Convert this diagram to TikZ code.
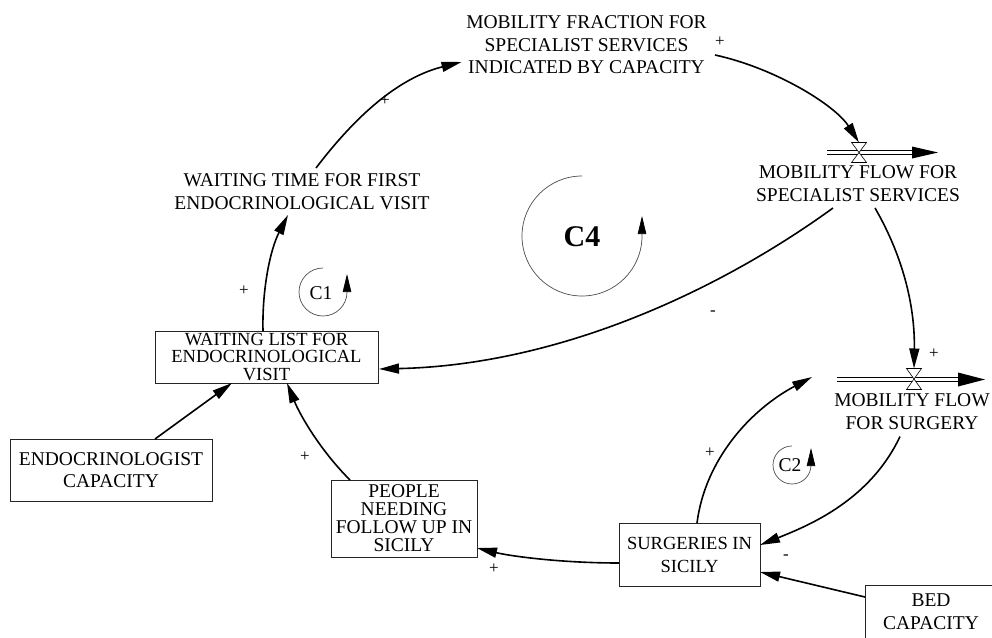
\documentclass[tikz,border=0pt]{standalone}
\usepackage{fontspec}
\setmainfont{Liberation Serif}
\usetikzlibrary{arrows.meta,calc}
\begin{document}
\begin{tikzpicture}[x=1pt,y=-1pt,
  every node/.style={font=\fontsize{19.5}{22.5}\selectfont, align=center, inner sep=0pt, outer sep=0pt},
  box/.style={draw=black!85, line width=0.9pt, rectangle},
  conn/.style={line width=1.6pt, -{Triangle[length=20pt,width=10pt]}},
  loopc/.style={draw=black!70, line width=0.7pt, -{Triangle[length=18pt,width=8.5pt,fill=black,color=black]}},
  sgn/.style={font=\fontsize{17}{17}\selectfont},
  pipe/.style={line width=0.7pt},
  valve/.style={draw=black, line width=0.6pt, fill=white},
  valvebox/.style={minimum width=15pt, minimum height=20pt},
]
\useasboundingbox (0,0) rectangle (992,637);

% text variables
\node (mf) at (586.5,45) {MOBILITY FRACTION FOR\\SPECIALIST SERVICES\\INDICATED BY CAPACITY};
\node (wt) at (302,191.5) {WAITING TIME FOR FIRST\\ENDOCRINOLOGICAL VISIT};
\node (fs) at (858,183.5) {MOBILITY FLOW FOR\\SPECIALIST SERVICES};
\node (fsu) at (912,411.5) {MOBILITY FLOW\\FOR SURGERY};

% boxes
\node[box, minimum width=223pt, minimum height=52pt, font=\fontsize{18.5}{17.5}\selectfont] (wl) at (266.5,357) {WAITING LIST FOR\\ENDOCRINOLOGICAL\\VISIT};
\node[box, minimum width=146pt, minimum height=77pt, font=\fontsize{19.5}{18}\selectfont] (pn) at (404,518.5) {PEOPLE\\NEEDING\\FOLLOW UP IN\\SICILY};
\node[box, minimum width=202pt, minimum height=62pt] (ec) at (111,470) {ENDOCRINOLOGIST\\CAPACITY};
\node[box, minimum width=141pt, minimum height=63pt, font=\fontsize{18.5}{23}\selectfont] (sc) at (689.5,554.5) {SURGERIES IN\\SICILY};
\node[box, minimum width=132pt, minimum height=53pt] (bc) at (931,611.5) {BED\\CAPACITY};

% flow 1
\coordinate (p1s) at (827,152.5);
\coordinate (p1e) at (938,152.5);
\draw[pipe] ($(p1s)+(0,-1.8)$) -- ($(p1e)+(-24,-1.8)$);
\draw[pipe] ($(p1s)+(0,1.8)$) -- ($(p1e)+(-24,1.8)$);
\fill (p1e) -- ++(-26,-6) -- ++(0,12) -- cycle;
\node[valvebox] (v1) at (859,152.5) {};
\draw[valve] (v1.north west) -- (v1.north east) -- (v1.south west) -- (v1.south east) -- cycle;

% flow 2
\coordinate (p2s) at (837,379.5);
\coordinate (p2e) at (985,379.5);
\draw[pipe] ($(p2s)+(0,-2.2)$) -- ($(p2e)+(-24,-2.2)$);
\draw[pipe] ($(p2s)+(0,2.2)$) -- ($(p2e)+(-24,2.2)$);
\fill (p2e) -- ++(-27,-7) -- ++(0,14) -- cycle;
\node[valvebox, minimum height=21pt] (v2) at (914,379) {};
\draw[valve] (v2.north west) -- (v2.north east) -- (v2.south west) -- (v2.south east) -- cycle;
\coordinate (f2in) at (812,377);

% connectors
\draw[conn] ($(wl.north)+(-3.5,0)$) .. controls (262,290) and (270,250) .. ($(wt)+(-14,23.5)$);
\draw[conn] ($(wt)+(14,-23.5)$) .. controls (345,130) and (390,80) .. ($(mf)+(-125,17)$);
\draw[conn] ($(mf)+(128.5,10)$) .. controls (775,68) and (835,105) .. (v1.north);
\draw[conn] ($(fs)+(-25,24.5)$) .. controls (720,290) and (560,365) .. ($(wl.east)+(1,12)$);
\draw[conn] ($(fs)+(17,24.5)$) .. controls (905,260) and (915,310) .. (v2.north);
\draw[conn] ($(fsu)+(-12,25)$) .. controls (870,500) and (810,525) .. ($(sc.east)+(0,-9.5)$);
\draw[conn] ($(sc.north)+(7.5,0)$) .. controls (705,460) and (750,410) .. (f2in);
\draw[conn] ($(sc.west)+(0,8.5)$) .. controls (560,563) and (510,556) .. ($(pn.east)+(0,29.5)$);
\draw[conn] ($(pn.north)+(-54,0)$) .. controls (320,450) and (300,415) .. ($(wl.south)+(20.5,0)$);
\draw[conn] ($(ec.north)+(44,0)$) -- ($(wl.south)+(-34.5,0)$);
\draw[conn] ($(bc.west)+(0,-14.5)$) -- ($(sc.east)+(0,17.5)$);

% loops
\node (c4) at (582,237) {\fontsize{30}{30}\selectfont\bfseries C4};
\draw[loopc] (582,176) arc[start angle=-90, end angle=-360, radius=60] -- ++(0,-20);
\node (c1) at (321,293) {C1};
\draw[loopc] (323,268) arc[start angle=-90, end angle=-360, radius=24] -- ++(0,-18);
\node (c2) at (790,465) {C2};
\draw[loopc] (792,446) arc[start angle=-90, end angle=-360, radius=19] -- ++(0,-17);

% polarity signs
\node[sgn] (s1) at (720,42) {+};
\node[sgn] (s2) at (385,101) {+};
\node[sgn] (s3) at (244,291) {+};
\node[sgn] (s4) at (934,354) {+};
\node[sgn] (s5) at (713,313) {-};
\node[sgn] (s6) at (710,453) {+};
\node[sgn] (s7) at (305,457) {+};
\node[sgn] (s8) at (494,569) {+};
\node[sgn] (s9) at (786,557) {-};
\end{tikzpicture}
\end{document}
